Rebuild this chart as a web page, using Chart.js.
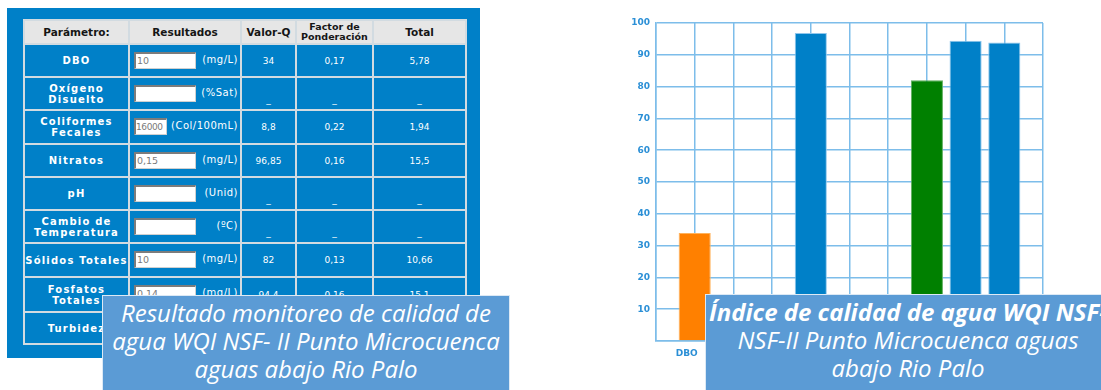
<!DOCTYPE html>
<html lang="es">
<head>
<meta charset="utf-8">
<title>WQI NSF - Microcuenca Rio Palo</title>
<script src="https://cdn.jsdelivr.net/npm/chart.js@4.4.1/dist/chart.umd.min.js"></script>
<style>
  html, body { margin: 0; padding: 0; background: #fff; }
  body { width: 1101px; height: 390px; position: relative; overflow: hidden; font-family: "DejaVu Sans", Verdana, sans-serif; }

  /* Panel azul con la tabla de parámetros */
  #panel { position: absolute; left: 7px; top: 8px; width: 473px; height: 350px; background: #0080c8; }
  #tablaWqi { position: absolute; left: 16px; top: 11px; border-collapse: collapse; table-layout: fixed; }
  #tablaWqi th, #tablaWqi td { border: 2px solid #d2dbe1; padding: 0; text-align: center; font-size: 9px; white-space: nowrap; }
  #tablaWqi th { background: #e6e6e6; color: #151515; font-weight: bold; font-size: 10.5px; line-height: 10px; }
  #tablaWqi th.dos { font-size: 9.5px; }
  #tablaWqi td { color: #fff; }
  #tablaWqi td.param { font-weight: bold; font-size: 10px; letter-spacing: 1.2px; line-height: 11px; }
  #tablaWqi td.res { position: relative; }
  .entrada { position: absolute; left: 4px; top: 7px; height: 17px; background: #fff; box-sizing: border-box; overflow: hidden;
             border-style: solid; border-width: 2px 1px 1px 2px; border-color: #7c7c7c #d0d0d0 #d0d0d0 #7c7c7c;
             color: #7a7a7a; text-align: left; font-size: 9.5px; line-height: 14px; padding-left: 1px; }
  .entrada.corta { font-size: 9px; letter-spacing: -0.4px; padding-left: 0; }
  .unidad { position: absolute; right: 2px; top: 9px; font-size: 10px; letter-spacing: 0.5px; }
  td.guion { vertical-align: bottom; padding-bottom: 4px !important; }

  #graficoWqi { position: absolute; left: 600px; top: 0; }

  /* Recuadros de texto */
  .leyenda { position: absolute; background: #5b9bd5; border: 1px solid #dce9f5; color: #fff;
             font-family: "Open Sans", "Noto Sans", sans-serif; font-style: italic; font-size: 24px;
             line-height: 28px; text-align: center; white-space: nowrap; }
  #leyendaTabla { left: 102px; top: 295px; width: 406px; height: 110px; padding-top: 3px; }
  #leyendaGrafico { left: 705px; top: 294px; width: 404px; height: 110px; padding-top: 3px; }
  #leyendaGrafico b { font-weight: bold; }
</style>
</head>
<body>
<div id="panel">
  <table id="tablaWqi"></table>
</div>

<canvas id="graficoWqi" width="501" height="390"></canvas>

<div class="leyenda" id="leyendaTabla">Resultado monitoreo de calidad de<br>agua WQI NSF- II Punto Microcuenca<br>aguas abajo Rio Palo</div>
<div class="leyenda" id="leyendaGrafico"><b>Índice de calidad de agua WQI NSF-</b><br>NSF-II Punto Microcuenca aguas<br>abajo Rio Palo</div>

<script>
// Parámetros medidos (orden de la tabla y del eje X)
const encabezados = ['Parámetro:', 'Resultados', 'Valor-Q', 'Factor de<br>Ponderación', 'Total'];
const parametros = ['DBO', 'Oxígeno\nDisuelto', 'Coliformes\nFecales', 'Nitratos', 'pH',
                    'Cambio de\nTemperatura', 'Sólidos Totales', 'Fosfatos\nTotales', 'Turbidez'];
const etiquetasEje = ['DBO', 'OD', 'CF', 'NO3', 'pH', 'T', 'ST', 'PT', 'Turb'];
const resultados = ['10', '', '16000', '0,15', '', '', '10', '0,14', ''];
const unidades = ['(mg/L)', '(%Sat)', '(Col/100mL)', '(mg/L)', '(Unid)', '(ºC)', '(mg/L)', '(mg/L)', '(NTU)'];
const valorQ = [34, null, 8.8, 96.85, null, null, 82, 94.4, 93.9];
const factores = [0.17, null, 0.22, 0.16, null, null, 0.13, 0.16, null];
const totales = [5.78, null, 1.94, 15.5, null, null, 10.66, 15.1, null];
const ticksY = [10, 20, 30, 40, 50, 60, 70, 80, 90, 100];

// Colores de cada barra
const coloresBarra = ['#ff8000', '#0080c8', '#0080c8', '#0080c8', '#0080c8', '#0080c8', '#008000', '#0080c8', '#0080c8'];
const bordesBarra = ['#ffb25c', '#8fc6ec', '#8fc6ec', '#8fc6ec', '#8fc6ec', '#8fc6ec', '#5fae5f', '#8fc6ec', '#8fc6ec'];

const anchosColumna = [105, 112, 55, 77, 93];
const altosFila = [33, 33, 34, 33, 33, 33, 34, 35, 32];

function conComa(v) {
    return v === null ? '_' : String(v).replace('.', ',');
}

// Construir la tabla de resultados
function crearTabla() {
    const tabla = document.getElementById('tablaWqi');
    let html = '<colgroup>' + anchosColumna.map(w => '<col style="width:' + w + 'px">').join('') + '</colgroup>';
    html += '<tr style="height:24px">' +
            encabezados.map(h => '<th' + (h.includes('<br>') ? ' class="dos"' : '') + '>' + h + '</th>').join('') + '</tr>';

    parametros.forEach((p, i) => {
        // la casilla de coliformes es más angosta
        const corta = resultados[i].length > 4;
        html += '<tr style="height:' + altosFila[i] + 'px">';
        html += '<td class="param">' + p.replace('\n', '<br>') + '</td>';
        html += '<td class="res"><div class="entrada' + (corta ? ' corta' : '') + '" style="width:' + (corta ? 33 : 62) + 'px">' +
                resultados[i] + '</div><span class="unidad">' + unidades[i] + '</span></td>';
        [valorQ[i], factores[i], totales[i]].forEach(v => {
            html += '<td' + (v === null ? ' class="guion"' : '') + '>' + conComa(v) + '</td>';
        });
        html += '</tr>';
    });
    tabla.innerHTML = html;
}

// Gráfico de barras del índice por parámetro
function crearGrafico() {
    const ctx = document.getElementById('graficoWqi').getContext('2d');
    const colorRejilla = '#7dbdea';
    const colorTexto = '#2b8fd6';
    const fuente = { family: 'DejaVu Sans', size: 9, weight: 'bold' };

    // Se agrega una posición vacía a cada lado para que la rejilla cierre el recuadro
    const etiquetas = [''].concat(etiquetasEje, ['']);
    const datos = [null].concat(valorQ, [null]);

    new Chart(ctx, {
        type: 'bar',
        data: {
            labels: etiquetas,
            datasets: [{
                data: datos,
                backgroundColor: [null].concat(coloresBarra, [null]),
                borderColor: [null].concat(bordesBarra, [null]),
                borderWidth: 1,
                barPercentage: 0.83,
                categoryPercentage: 1
            }]
        },
        options: {
            responsive: false,
            animation: false,
            layout: { padding: { top: 23, right: 58, bottom: 0, left: 0 } },
            plugins: {
                legend: { display: false },
                tooltip: { enabled: false }
            },
            scales: {
                x: {
                    offset: false,
                    grid: { offset: false, color: colorRejilla, lineWidth: 1.5, drawTicks: false },
                    border: { color: colorRejilla, width: 1.5 },
                    ticks: {
                        autoSkip: false, maxRotation: 0, minRotation: 0,
                        padding: 7, labelOffset: -8,
                        color: colorTexto, font: fuente
                    },
                    afterFit: function(escala) { escala.height = 49; }
                },
                y: {
                    min: 0,
                    max: ticksY[ticksY.length - 1],
                    grid: { color: colorRejilla, lineWidth: 1.5, drawTicks: false },
                    border: { color: colorRejilla, width: 1.5 },
                    ticks: {
                        stepSize: ticksY[1] - ticksY[0],
                        padding: 6,
                        color: colorTexto,
                        font: fuente,
                        callback: v => ticksY.includes(v) ? v : ''
                    },
                    afterFit: function(escala) { escala.width = 56; }
                }
            }
        }
    });
}

crearTabla();
crearGrafico();
</script>
</body>
</html>
